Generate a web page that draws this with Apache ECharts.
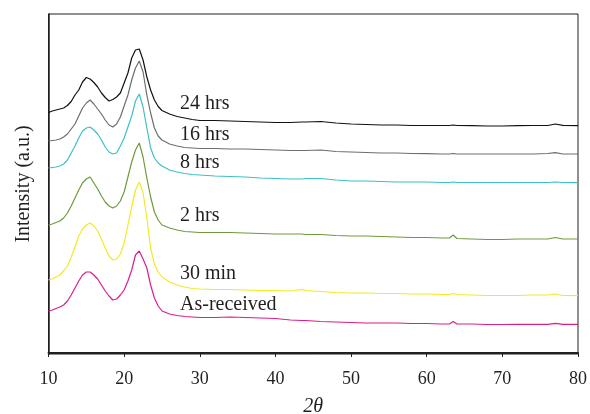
<!DOCTYPE html>
<html>
<head>
<meta charset="utf-8">
<script src="https://cdn.jsdelivr.net/npm/echarts@6/dist/echarts.min.js"></script>
<style>
  html, body { margin: 0; padding: 0; background: #fff; }
  #chart { width: 590px; height: 414px; }
</style>
</head>
<body>
<div id="chart"></div>
<script>
// 2θ positions (degrees)
const twoTheta = [
  10, 10.5, 11, 11.5, 12, 12.5, 13, 13.5, 14, 14.5, 15, 15.5, 16, 16.5, 17, 17.5,
  18, 18.5, 19, 19.5, 20, 20.5, 21, 21.5, 22, 22.5, 23, 23.5, 24, 24.5, 25,
  26, 27, 28, 29, 30, 32, 34, 36, 38, 40, 42, 43.5, 44, 46, 48, 50, 52, 54, 56,
  58, 60, 62, 63, 63.5, 64, 66, 68, 70, 72, 74, 76, 77, 78, 80
];

// intensities (a.u., curves already offset as in the figure)
const hrs24 = [
  240.5, 242, 243, 244, 245, 247.5, 251.5, 258, 263, 271, 275.5, 274, 270.5, 266, 260, 255.5,
  252, 253.5, 256, 260, 270, 280, 295, 303, 304, 293, 276, 263, 253, 246.5, 242.5,
  239, 236.5, 235, 233.5, 232.5, 232.5, 232, 231.5, 231, 230.5, 230.5, 231, 231, 231.5, 230, 229, 228.5, 228, 228,
  227.5, 227.5, 227.5, 227.5, 228, 227.5, 227.3, 227, 227, 227.3, 227.5, 227.5, 229, 227.7, 227.3
];
const hrs16 = [
  212, 212.5, 213, 214, 216, 219, 224, 229, 237, 245, 250, 253, 249, 244, 239, 233,
  228, 226, 229, 236, 247, 258, 273, 285, 292, 281, 258, 240, 225, 217, 213,
  209, 207, 205.5, 205, 204.5, 204.5, 204, 204, 203.5, 203, 202.5, 202.5, 202.5, 203, 201.5, 201, 200.5, 200, 200,
  199.5, 199.3, 199, 199, 199.5, 199, 199, 199, 199, 199, 199, 199.5, 200.3, 199, 199
];
const hrs8 = [
  185, 185.5, 186, 187, 189, 193, 200, 207, 215, 222, 225, 226, 223, 219, 213, 206,
  201, 199, 200, 207, 215, 226, 237, 252, 259, 246, 225, 205, 195, 190, 187,
  183, 181, 179.5, 178.5, 178, 177, 176.5, 176, 175, 174.5, 174, 174, 174.5, 174.5, 173, 172, 172, 171.5, 171,
  171, 171, 170.5, 170.5, 171, 170.5, 170.5, 170.5, 170.5, 170.5, 170.5, 170.5, 171, 170.5, 170.3
];
const hrs2 = [
  128, 129, 130.5, 132, 135, 140, 147, 155, 163, 170, 174, 176, 170, 164, 157, 151,
  147, 145, 147, 152, 161, 176, 191, 203, 210, 196, 175, 156, 141, 133, 128,
  125, 123, 121.5, 121, 120.5, 120.5, 120.5, 120, 119.5, 119, 119, 119, 118.5, 118.5, 117.5, 117, 117, 116.5, 116,
  115.5, 115.5, 115, 115, 118, 114.5, 114, 113.5, 113.5, 114, 114, 114, 115.5, 114, 114
];
const min30 = [
  73, 74, 76, 78, 82, 87, 96, 106, 117, 124, 128, 130, 127, 122, 114, 105,
  97, 93, 94, 99, 110, 128, 146, 163, 171, 160, 135, 105, 89, 81, 76,
  71, 68, 66, 64.5, 64, 63.5, 63.5, 63, 62.5, 62.5, 62, 63.5, 62.5, 61.5, 60.5, 60, 60, 59.5, 59.5,
  59, 59, 58.5, 58.5, 59.5, 58.5, 58, 57.5, 57.5, 57.5, 58, 58, 59, 57.5, 57.3
];
const asReceived = [
  42, 43, 44.5, 46, 48, 52, 58, 65, 72, 78, 81, 81, 78, 74, 68, 62,
  57, 53, 54, 58, 63, 72, 83, 98, 102, 94, 85, 68, 55, 47, 42,
  39, 37.5, 36.5, 36, 35.5, 35.5, 36, 35.5, 35, 34.5, 33, 32.5, 32.5, 31.5, 31, 30.5, 30, 30, 30,
  29.5, 29.5, 29, 29, 31.5, 29, 29, 28.5, 28.5, 28.7, 28.7, 28.7, 29.7, 28.7, 28.7
];

const seriesNames = ['24 hrs', '16 hrs', '8 hrs', '2 hrs', '30 min', 'As-received'];
const seriesData = [hrs24, hrs16, hrs8, hrs2, min30, asReceived];
const seriesColors = ['#111111', '#6d6e70', '#3cc0c4', '#6e9b3a', '#f2ea22', '#d91f8a'];
// where each curve label sits (pixels, left edge / vertical centre)
const labelPos = [[180, 105], [180, 136], [180, 164], [180, 217], [180, 275], [180, 306]];

const serif = '"Liberation Serif", "DejaVu Serif", serif';
const chart = echarts.init(document.getElementById('chart'));

const option = {
  animation: false,
  grid: {
    left: 48.5, right: 12, top: 14, bottom: 60,
    containLabel: false,
    outerBoundsMode: 'none',
    show: true, borderColor: '#231f20', borderWidth: 1
  },
  xAxis: {
    type: 'value',
    min: 10, max: 80, interval: 10,
    name: '2θ',
    nameLocation: 'middle',
    nameGap: 43,
    nameTextStyle: { fontFamily: serif, fontStyle: 'italic', fontSize: 20, color: '#231f20' },
    axisLine: { lineStyle: { color: '#231f20', width: 2 } },
    axisTick: { show: true, length: 4, lineStyle: { color: '#231f20', width: 1 } },
    axisLabel: { fontFamily: serif, fontSize: 18, color: '#231f20', margin: 16 },
    splitLine: { show: false }
  },
  yAxis: {
    type: 'value',
    min: -1, max: 339,
    name: 'Intensity (a.u.)',
    nameLocation: 'middle',
    nameGap: 15,
    nameRotate: 90,
    nameTextStyle: { fontFamily: serif, fontSize: 20, color: '#231f20' },
    axisLine: { show: true, lineStyle: { color: '#231f20', width: 1.5 } },
    axisTick: { show: false },
    axisLabel: { show: false },
    splitLine: { show: false }
  },
  series: seriesNames.map((name, i) => ({
    name: name,
    type: 'line',
    showSymbol: false,
    symbol: 'none',
    lineStyle: { color: seriesColors[i], width: 1.2 },
    data: twoTheta.map((x, k) => [x, seriesData[i][k]])
  })),
  graphic: seriesNames.map((name, i) => ({
    type: 'text',
    left: labelPos[i][0],
    top: labelPos[i][1] - 11,
    style: { text: name, fontFamily: serif, fontSize: 20, fill: '#231f20' }
  }))
};

chart.setOption(option);
</script>
</body>
</html>
